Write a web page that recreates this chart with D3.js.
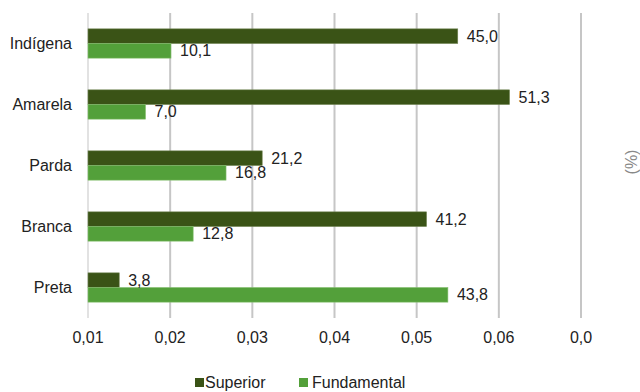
<!DOCTYPE html>
<html>
<head>
<meta charset="utf-8">
<script src="https://cdn.jsdelivr.net/npm/d3@7"></script>
<style>
  body { margin: 0; background: #fff; }
  text { font-family: "Liberation Sans", Arial, sans-serif; }
</style>
</head>
<body>
<div id="chart"></div>
<script>
const categories = ["Indígena", "Amarela", "Parda", "Branca", "Preta"];
const superior = [45.0, 51.3, 21.2, 41.2, 3.8];
const fundamental = [10.1, 7.0, 16.8, 12.8, 43.8];
const tickValues = [0, 10, 20, 30, 40, 50, 60];
const tickLabels = ["0,01", "0,02", "0,03", "0,04", "0,05", "0,06", "0,0"];
const seriesNames = ["Superior", "Fundamental"];
const colors = ["#3a5316", "#53a03a"];

const svg = d3.select("#chart").append("svg")
    .attr("width", 640)
    .attr("height", 392);

const margin = {top: 13, right: 59, bottom: 74, left: 88};
const width = 640 - margin.left - margin.right;
const height = 392 - margin.top - margin.bottom;

const g = svg.append("g").attr("transform", `translate(${margin.left},${margin.top})`);

const x = d3.scaleLinear().domain([0, 60]).range([0, width]);
const y = d3.scaleBand().domain(categories).range([0, height]).paddingInner(0.52).paddingOuter(0.26);
const ySub = d3.scaleBand().domain(seriesNames).range([0, y.bandwidth()]);

// grid
g.selectAll(".grid")
    .data(tickValues)
    .enter().append("line")
    .attr("x1", d => x(d)).attr("x2", d => x(d))
    .attr("y1", 0).attr("y2", height)
    .attr("stroke", (d, i) => i === 0 ? "#e2e2e2" : "#c6c6c6")
    .attr("stroke-width", 2);

// x tick labels
g.selectAll(".tick-label")
    .data(tickValues)
    .enter().append("text")
    .attr("x", d => x(d))
    .attr("y", height + 25)
    .attr("text-anchor", "middle")
    .attr("font-size", 16)
    .attr("fill", "#222")
    .text((d, i) => tickLabels[i]);

// category labels
g.selectAll(".cat")
    .data(categories)
    .enter().append("text")
    .attr("x", -16)
    .attr("y", d => y(d) + y.bandwidth() / 2)
    .attr("dy", "0.35em")
    .attr("text-anchor", "end")
    .attr("font-size", 16)
    .attr("fill", "#222")
    .text(d => d);

const rows = categories.map((c, i) => ({cat: c, values: [superior[i], fundamental[i]]}));

const groups = g.selectAll(".grp")
    .data(rows)
    .enter().append("g")
    .attr("transform", d => `translate(0,${y(d.cat)})`);

groups.selectAll("rect")
    .data(d => d.values.map((v, j) => ({name: seriesNames[j], v: v, j: j})))
    .enter().append("rect")
    .attr("x", x(0))
    .attr("y", d => ySub(d.name))
    .attr("width", d => x(d.v) - x(0))
    .attr("height", ySub.bandwidth())
    .attr("fill", d => colors[d.j])
    .attr("stroke", d => d.j === 0 ? "#6f8350" : "#86bf70")
    .attr("stroke-width", 0.6);

groups.selectAll(".val")
    .data(d => d.values.map((v, j) => ({name: seriesNames[j], v: v, j: j})))
    .enter().append("text")
    .attr("x", d => x(d.v) + 9)
    .attr("y", d => ySub(d.name) + ySub.bandwidth() / 2)
    .attr("dy", "0.35em")
    .attr("font-size", 16)
    .attr("fill", "#222")
    .text(d => d3.format(".1f")(d.v).replace(".", ","));

// legend
const legend = svg.append("g").attr("transform", "translate(195,388)");
const legendX = [0, 104];
const legendGap = [10, 13];
seriesNames.forEach((s, i) => {
    const lg = legend.append("g").attr("transform", `translate(${legendX[i]},0)`);
    lg.append("rect").attr("x", 0).attr("y", -10).attr("width", 9).attr("height", 9).attr("fill", colors[i]);
    lg.append("text").attr("x", legendGap[i]).attr("y", 0).attr("font-size", 16).attr("fill", "#222").text(s);
});

// unit label
svg.append("text")
    .attr("transform", "translate(637,162) rotate(-90)")
    .attr("text-anchor", "middle")
    .attr("font-size", 16)
    .attr("fill", "#888")
    .text("(%)");
</script>
</body>
</html>
